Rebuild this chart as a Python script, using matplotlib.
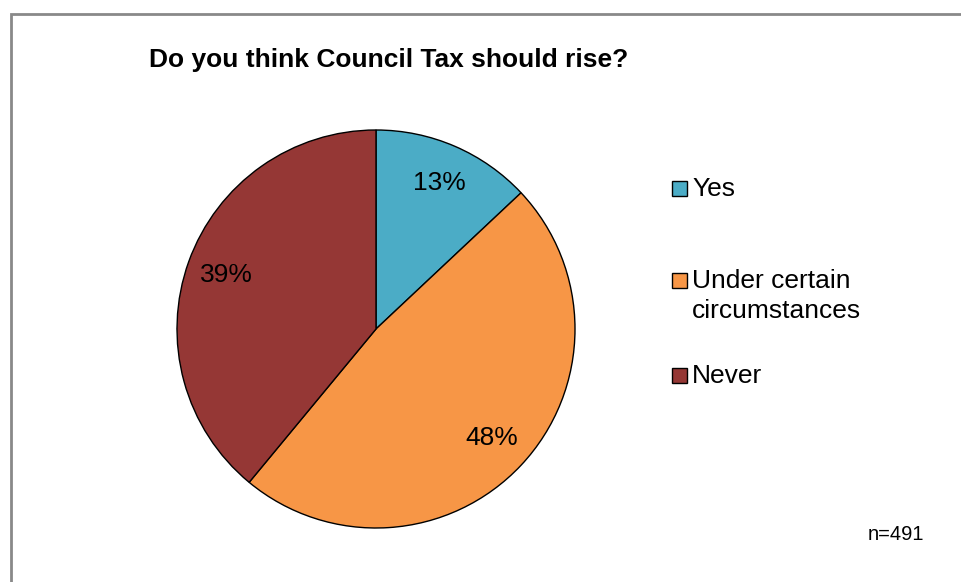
import matplotlib.pyplot as plt
from matplotlib.patches import Rectangle

labels = ["Yes", "Under certain\ncircumstances", "Never"]
values = [13, 48, 39]
colors = ["#4BACC6", "#F79646", "#953735"]

W, H = 962, 582
plt.rcParams['font.family'] = ['Liberation Sans', 'DejaVu Sans']

fig = plt.figure(figsize=(W / 100, H / 100), dpi=100)

def fx(px):
    return px / W

def fy(py):
    return 1 - py / H

# outer frame (only left and top edges visible in the original)
fig.patches.append(Rectangle((fx(11), fy(600)), fx(1000), fy(14) - fy(600),
                             transform=fig.transFigure, fill=False,
                             edgecolor="#898989", linewidth=2.0))

cx, cy, r = 376, 329, 199
ax = fig.add_axes([fx(cx - r), fy(cy + r), 2 * r / W, 2 * r / H])
ax.pie(values, colors=colors, startangle=90, counterclock=False,
       autopct=lambda p: f"{p:.0f}%", pctdistance=0.8,
       wedgeprops=dict(edgecolor="black", linewidth=1.0),
       textprops=dict(fontsize=19, color="black"))
ax.set_xlim(-1, 1)
ax.set_ylim(-1, 1)
ax.set_aspect("equal")
ax.axis("off")

fig.text(fx(388.5), fy(67.3), "Do you think Council Tax should rise?",
         fontsize=19, fontweight="bold", va="baseline", ha="center")

# legend: square bottom sits on the first-line baseline
baselines = [195.7, 288.3, 383.3]
sq = 15
for lab, col, by in zip(labels, colors, baselines):
    fig.patches.append(Rectangle((fx(672), fy(by)), fx(sq), fy(by - sq) - fy(by),
                                 transform=fig.transFigure, facecolor=col,
                                 edgecolor="black", linewidth=1.0))
    fig.text(fx(692), fy(by - 19), lab, fontsize=19, va="top", ha="left",
             linespacing=1.3)

fig.text(fx(924), fy(535), "n=491", fontsize=14.5, ha="right", va="center")

fig.savefig("out.png", dpi=100)
